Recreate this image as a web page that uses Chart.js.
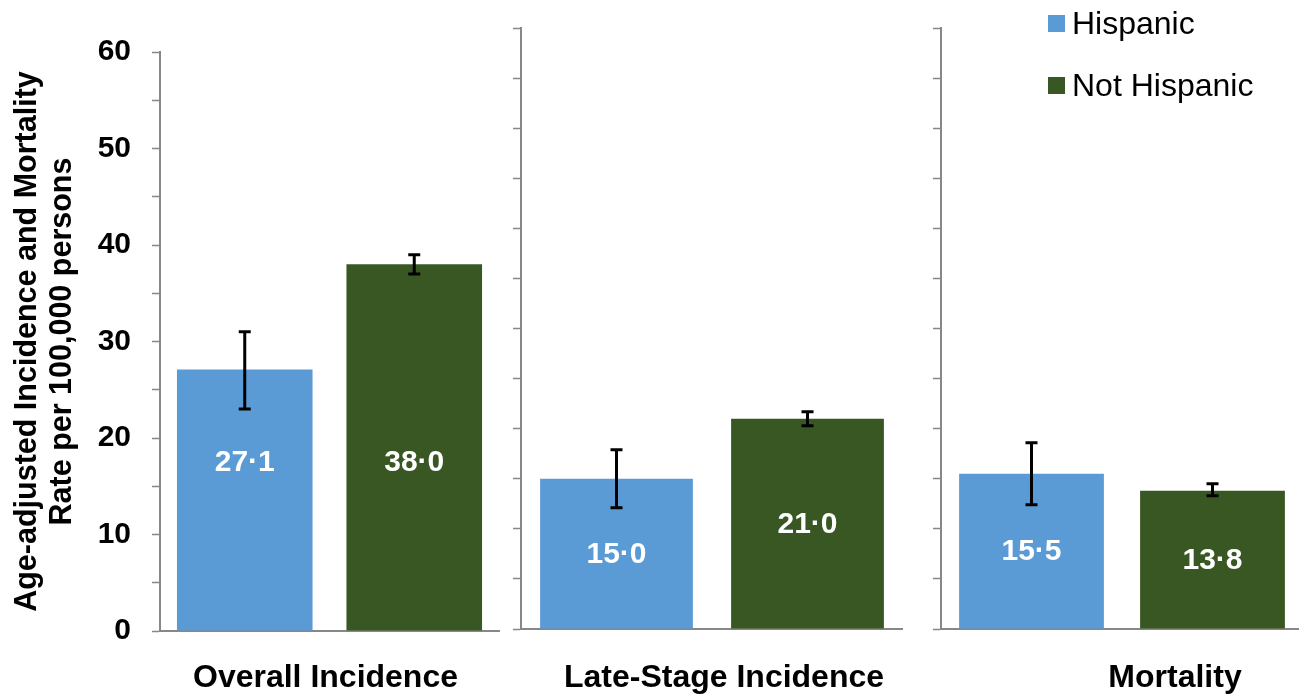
<!DOCTYPE html>
<html>
<head>
<meta charset="utf-8">
<script src="https://cdn.jsdelivr.net/npm/chart.js@4.4.1/dist/chart.umd.min.js"></script>
<style>
  html, body { margin: 0; padding: 0; background: #fff; overflow: hidden; }
  #wrap { position: relative; width: 1299px; height: 694px; overflow: hidden; }
  #wrap canvas { position: absolute; top: 0; }
</style>
</head>
<body>
<div id="wrap">
  <canvas id="c0" width="500" height="694" style="left:0px"></canvas>
  <canvas id="c1" width="400" height="694" style="left:503px"></canvas>
  <canvas id="c2" width="380" height="694" style="left:923px"></canvas>
</div>
<script>
// data
const categories = ['Overall Incidence', 'Late-Stage Incidence', 'Mortality'];
const seriesNames = ['Hispanic', 'Not Hispanic'];
const hispanic = [27.1, 15.0, 15.5];
const notHispanic = [38.0, 21.0, 13.8];
const hispanicLow = [23.0, 12.1, 12.4];
const hispanicHigh = [31.0, 17.9, 18.6];
const notHispanicLow = [37.0, 20.3, 13.3];
const notHispanicHigh = [39.0, 21.7, 14.5];
const yMin = 0, yMax = 60, yStep = 5;
const yTitle = ['Age-adjusted Incidence and Mortality', 'Rate per 100,000 persons'];

const colors = ['#5B9BD5', '#395723'];
const axisColor = '#878787';
const FONT = '"Liberation Sans", Arial, sans-serif';

// error bars for each bar
const errorBars = {
    id: 'errorBars',
    afterDatasetsDraw(chart) {
        const ctx = chart.ctx;
        const y = chart.scales.y;
        ctx.save();
        ctx.strokeStyle = '#000';
        ctx.lineWidth = 3;
        chart.data.datasets.forEach((ds, i) => {
            chart.getDatasetMeta(i).data.forEach((bar, j) => {
                const lo = y.getPixelForValue(ds.errLow[j]);
                const hi = y.getPixelForValue(ds.errHigh[j]);
                ctx.beginPath();
                ctx.moveTo(bar.x, lo); ctx.lineTo(bar.x, hi);
                ctx.moveTo(bar.x - 6, lo); ctx.lineTo(bar.x + 6, lo);
                ctx.moveTo(bar.x - 6, hi); ctx.lineTo(bar.x + 6, hi);
                ctx.stroke();
            });
        });
        ctx.restore();
    }
};

// white value labels inside the bars
const valueLabels = {
    id: 'valueLabels',
    afterDatasetsDraw(chart, args, opts) {
        const ctx = chart.ctx;
        const y = chart.scales.y;
        ctx.save();
        ctx.fillStyle = '#fff';
        ctx.font = 'bold 30px ' + FONT;
        ctx.textAlign = 'center';
        ctx.textBaseline = 'middle';
        chart.data.datasets.forEach((ds, i) => {
            chart.getDatasetMeta(i).data.forEach((bar, j) => {
                const txt = ds.data[j].toFixed(1).replace('.', '\u00B7');
                const ty = opts.at != null ? y.getPixelForValue(opts.at) : (bar.y + bar.base) / 2;
                ctx.fillText(txt, bar.x, ty + 1);
            });
        });
        ctx.restore();
    }
};

// legend in the top right corner
const cornerLegend = {
    id: 'cornerLegend',
    afterDraw(chart, args, opts) {
        if (!opts.show) return;
        const ctx = chart.ctx;
        ctx.save();
        ctx.font = '32px ' + FONT;
        ctx.textBaseline = 'middle';
        chart.data.datasets.forEach((ds, i) => {
            const top = 15 + i * 62;
            ctx.fillStyle = ds.backgroundColor;
            ctx.fillRect(opts.x, top, 17, 17);
            ctx.fillStyle = '#000';
            ctx.fillText(ds.label, opts.x + 24, top + 10);
        });
        ctx.restore();
    }
};

const panels = [
    { id: 'c0', yWidth: 150, xHeight: 63, pad: { left: 10, top: 52, right: 1, bottom: 0 },
      showY: true, labelOffset: -4, labelPad: 28, valueAt: 17.5, legend: false },
    { id: 'c1', yWidth: 18, xHeight: 65, pad: { left: 0, top: 28, right: 0, bottom: 0 },
      showY: false, labelOffset: 12, labelPad: 30, valueAt: null, legend: false },
    { id: 'c2', yWidth: 18, xHeight: 65, pad: { left: 0, top: 28, right: 0, bottom: 0 },
      showY: false, labelOffset: 53, labelPad: 30, valueAt: null, legend: true }
];

panels.forEach((p, k) => {
    const ctx = document.getElementById(p.id).getContext('2d');
    new Chart(ctx, {
        type: 'bar',
        data: {
            labels: [categories[k]],
            datasets: [
                { label: seriesNames[0], data: [hispanic[k]], errLow: [hispanicLow[k]], errHigh: [hispanicHigh[k]],
                  backgroundColor: colors[0], categoryPercentage: 1, barPercentage: 0.8 },
                { label: seriesNames[1], data: [notHispanic[k]], errLow: [notHispanicLow[k]], errHigh: [notHispanicHigh[k]],
                  backgroundColor: colors[1], categoryPercentage: 1, barPercentage: 0.8 }
            ]
        },
        options: {
            responsive: false,
            animation: false,
            layout: { padding: p.pad },
            plugins: {
                legend: { display: false },
                tooltip: { enabled: false },
                valueLabels: { at: p.valueAt },
                cornerLegend: { show: p.legend, x: 125 }
            },
            scales: {
                x: {
                    grid: { display: false, drawTicks: false },
                    border: { display: true, color: axisColor, width: 2 },
                    ticks: {
                        color: '#000', padding: p.labelPad, labelOffset: p.labelOffset,
                        maxRotation: 0, autoSkip: false,
                        font: { family: FONT, size: 32, weight: 'bold' }
                    },
                    afterFit: (s) => { s.height = p.xHeight; }
                },
                y: {
                    min: yMin, max: yMax,
                    grid: { display: true, drawOnChartArea: false, drawTicks: true, tickLength: 8,
                            tickColor: axisColor, tickWidth: 1.5 },
                    border: { display: true, color: axisColor, width: 2 },
                    ticks: {
                        display: p.showY, stepSize: yStep, padding: 21, color: '#000',
                        font: { family: FONT, size: 30, weight: 'bold' },
                        callback: (v) => (v % 10 === 0 ? v : '')
                    },
                    title: {
                        display: p.showY, text: yTitle, color: '#000', padding: 0,
                        font: { family: FONT, size: 30.5, weight: 'bold', lineHeight: 1.15 }
                    },
                    afterFit: (s) => { s.width = p.yWidth; }
                }
            }
        },
        plugins: [errorBars, valueLabels, cornerLegend]
    });
});
</script>
</body>
</html>
